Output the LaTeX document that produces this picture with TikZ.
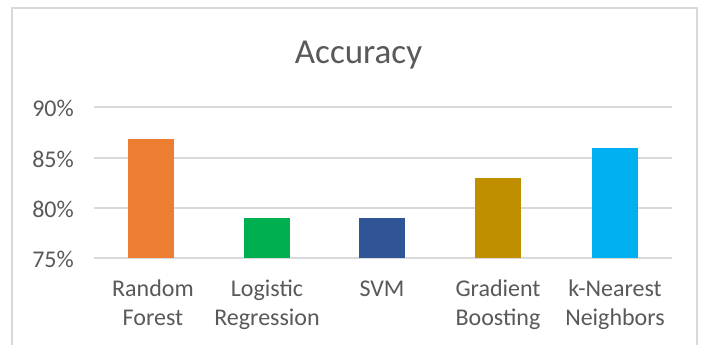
\documentclass[tikz,border=0pt]{standalone}
\usepackage{fontspec}
\setmainfont{Carlito}
\definecolor{txtgray}{HTML}{595959}
\definecolor{gridgray}{HTML}{D9D9D9}
\definecolor{framegray}{HTML}{D9D9D9}
\definecolor{cRF}{HTML}{ED7D31}
\definecolor{cLR}{HTML}{00B050}
\definecolor{cSVM}{HTML}{2F5597}
\definecolor{cGB}{HTML}{BF8F00}
\definecolor{cKNN}{HTML}{00B0F0}
\begin{document}
\begin{tikzpicture}[x=1pt,y=-1pt,
  gridline/.style={draw=gridgray,line width=1.8pt},
  ticklabel/.style={anchor=east,inner sep=0pt,text=txtgray,font=\fontsize{24}{29}\selectfont},
  catlabel/.style={anchor=base,inner sep=0pt,text=txtgray,font=\fontsize{24}{29}\selectfont},
  bar/.style={draw=none}]
\useasboundingbox (0,0) rectangle (705,345);
\fill[white] (0,0) rectangle (705,345);
% frame
\draw[framegray,line width=2.5pt] (12,346) -- (12,8) -- (697,8) -- (697,346);
% title
\node[anchor=base,inner sep=0pt,text=txtgray,font=\fontsize{35}{40}\selectfont] (title) at (358.5,64) {Accuracy};
% grid lines and tick labels
\foreach \v/\y in {90/107,85/158,80/208,75/258}{
  \coordinate (gl\v) at (94,\y);
  \coordinate (gr\v) at (672,\y);
  \draw[gridline] (gl\v) -- (gr\v);
  \node[ticklabel] (t\v) at (74,\y+1) {\v\%};
}
% bars
\fill[cRF]  (128,139) rectangle (174,258);
\fill[cLR]  (244,218) rectangle (290,258);
\fill[cSVM] (359,218) rectangle (405,258);
\fill[cGB]  (475,178) rectangle (521,258);
\fill[cKNN] (592,148) rectangle (638,258);
% category labels
\node[catlabel] (rf1) at (153,296) {Random};
\node[catlabel] (rf2) at (153,325) {Forest};
\node[catlabel] (lr1) at (267,296) {Logistic};
\node[catlabel] (lr2) at (267,325) {Regression};
\node[catlabel] (svm) at (382,296) {SVM};
\node[catlabel] (gb1) at (498,296) {Gradient};
\node[catlabel] (gb2) at (498,325) {Boosting};
\node[catlabel] (kn1) at (615,296) {k-Nearest};
\node[catlabel] (kn2) at (615,325) {Neighbors};
\end{tikzpicture}
\end{document}
